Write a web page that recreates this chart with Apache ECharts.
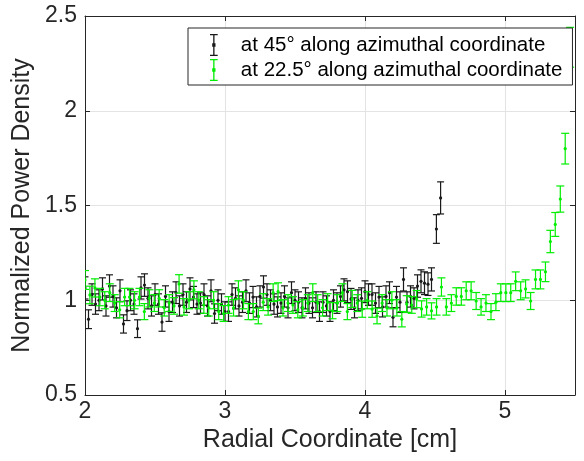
<!DOCTYPE html>
<html>
<head>
<meta charset="utf-8">
<script src="https://cdn.jsdelivr.net/npm/echarts@6/dist/echarts.min.js"></script>
<style>
    html, body { margin: 0; padding: 0; background: #fff; }
    #chart { width: 584px; height: 461px; }
</style>
</head>
<body>
<div id="chart"></div>
<script>
    'use strict';

    // radial positions [cm] and normalized power density, 45 deg cut
    var r45 = [
        2.000, 2.025, 2.050, 2.075, 2.100, 2.125, 2.150, 2.175, 2.200, 2.225,
        2.250, 2.275, 2.300, 2.325, 2.350, 2.375, 2.400, 2.425, 2.450, 2.475,
        2.500, 2.525, 2.550, 2.575, 2.600, 2.625, 2.650, 2.675, 2.700, 2.725,
        2.750, 2.775, 2.800, 2.825, 2.850, 2.875, 2.900, 2.925, 2.950, 2.975,
        3.000, 3.025, 3.050, 3.075, 3.100, 3.125, 3.150, 3.175, 3.200, 3.225,
        3.250, 3.275, 3.300, 3.325, 3.350, 3.375, 3.400, 3.425, 3.450, 3.475,
        3.500, 3.525, 3.550, 3.575, 3.600, 3.625, 3.650, 3.675, 3.700, 3.725,
        3.750, 3.775, 3.800, 3.825, 3.850, 3.875, 3.900, 3.925, 3.950, 3.975,
        4.000, 4.025, 4.050, 4.075, 4.100, 4.125, 4.150, 4.175, 4.200, 4.225,
        4.250, 4.275, 4.300, 4.325, 4.350, 4.375, 4.400, 4.425, 4.450, 4.475,
        4.510, 4.540
    ];
    var p45 = [
        1.065, 0.90, 1.03, 0.98, 1.00, 1.06, 0.97, 1.075, 1.02, 0.96,
        1.05, 0.875, 0.945, 1.00, 0.98, 0.85, 1.065, 1.08, 1.01, 0.97,
        1.03, 0.98, 0.885, 1.02, 0.94, 0.99, 1.04, 0.97, 1.03, 0.99,
        1.06, 1.017, 0.98, 0.985, 1.03, 0.97, 1.05, 0.93, 1.00, 0.98,
        0.94, 0.94, 1.03, 1.01, 0.97, 0.99, 1.05, 0.985, 1.017, 0.965,
        1.02, 1.07, 1.03, 1.00, 0.98, 0.965, 0.985, 1.02, 0.96, 1.04,
        1.00, 0.99, 0.96, 1.01, 0.985, 0.96, 0.99, 0.94, 0.99, 0.97,
        0.94, 1.00, 0.985, 1.02, 1.055, 1.045, 1.007, 0.96, 1.00, 1.01,
        1.045, 1.03, 1.03, 0.985, 1.017, 0.965, 1.02, 1.04, 0.91, 1.017,
        0.99, 1.11, 0.99, 1.02, 1.01, 1.075, 1.10, 1.09, 1.085, 1.11,
        1.376, 1.54
    ];

    // 22.5 deg cut
    var r225 = [
        2.000, 2.035, 2.071, 2.106, 2.141, 2.177, 2.212, 2.248, 2.283, 2.318,
        2.354, 2.389, 2.424, 2.460, 2.495, 2.530, 2.566, 2.601, 2.636, 2.672,
        2.707, 2.743, 2.778, 2.813, 2.849, 2.884, 2.919, 2.955, 2.990, 3.025,
        3.061, 3.096, 3.132, 3.167, 3.202, 3.238, 3.273, 3.308, 3.344, 3.379,
        3.414, 3.450, 3.485, 3.520, 3.556, 3.591, 3.627, 3.662, 3.697, 3.733,
        3.768, 3.803, 3.839, 3.874, 3.909, 3.945, 3.980, 4.016, 4.051, 4.086,
        4.122, 4.157, 4.192, 4.228, 4.263, 4.298, 4.334, 4.369, 4.404, 4.440,
        4.475, 4.511, 4.546, 4.581, 4.617, 4.652, 4.688, 4.723, 4.758, 4.794,
        4.829, 4.864, 4.900, 4.935, 4.970, 5.006, 5.041, 5.076, 5.112, 5.147,
        5.183, 5.218, 5.253, 5.289, 5.324, 5.359, 5.395, 5.430, 5.465
    ];
    var p225 = [
        1.107, 1.028, 1.065, 1.017, 1.00, 1.04, 0.985, 0.95, 1.017, 1.017,
        1.00, 1.017, 0.94, 1.01, 0.985, 1.01, 0.96, 0.985, 0.97, 1.086,
        0.965, 1.00, 1.055, 1.00, 0.975, 0.96, 1.00, 0.94, 0.93, 0.975,
        0.96, 1.055, 1.00, 0.94, 0.94, 0.917, 0.99, 0.965, 1.04, 1.045,
        0.96, 0.985, 0.975, 0.95, 0.96, 0.985, 1.04, 0.985, 0.96, 0.99,
        0.945, 0.985, 1.04, 0.94, 1.007, 0.985, 0.953, 1.00, 0.953, 0.917,
        0.985, 0.96, 1.00, 0.96, 0.90, 0.98, 0.975, 1.006, 0.954, 0.965,
        0.944, 0.965, 1.07, 0.965, 0.985, 1.02, 1.02, 1.05, 1.05, 0.996,
        0.965, 0.985, 0.94, 0.99, 1.04, 1.04, 1.04, 1.10, 1.05, 1.06,
        0.996, 1.11, 1.11, 1.15, 1.31, 1.40, 1.534, 1.80, 2.335
    ];

    // relative uncertainty
    var relErr45 = 0.055;
    var relErr225 = 0.045;

    var seriesNames = ['at 45° along azimuthal coordinate', 'at 22.5° along azimuthal coordinate'];
    var xTicks = [2, 3, 4, 5];
    var yTicks = [0.5, 1, 1.5, 2, 2.5];

    var FONT = '"Liberation Sans", Arial, Helvetica, sans-serif';

    function toRows(rs, ps, rel) {
        var out = [];
        for (var i = 0; i < rs.length; i++) {
            out.push([rs[i], ps[i], ps[i] * rel]);
        }
        return out;
    }

    function errorBar(capHalf, dotR) {
        return function (params, api) {
            var x = api.value(0), y = api.value(1), e = api.value(2);
            var c = api.coord([x, y]);
            var hi = api.coord([x, y + e]);
            var lo = api.coord([x, y - e]);
            var color = api.visual('color');
            var st = { stroke: color, lineWidth: 1.2 };
            return {
                type: 'group',
                children: [
                    { type: 'line', shape: { x1: c[0], y1: hi[1], x2: c[0], y2: lo[1] }, style: st },
                    { type: 'line', shape: { x1: c[0] - capHalf, y1: hi[1], x2: c[0] + capHalf, y2: hi[1] }, style: st },
                    { type: 'line', shape: { x1: c[0] - capHalf, y1: lo[1], x2: c[0] + capHalf, y2: lo[1] }, style: st },
                    { type: 'circle', shape: { cx: c[0], cy: c[1], r: dotR }, style: { fill: color } }
                ]
            };
        };
    }

    // I-beam with a dot, for the legend
    var errIcon = 'path://M0,0h7v1.2h-2.9v7.3h0.9v3h-0.9v7.3h2.9v1.2h-7v-1.2h2.9v-7.3h-0.9v-3h0.9v-7.3h-2.9z';

    var axisLine = { show: true, lineStyle: { color: '#262626', width: 1 } };
    var gridLine = { show: true, lineStyle: { color: '#e3e3e3', width: 1 } };
    var tick = { show: true, inside: true, length: 5, lineStyle: { color: '#262626' } };

    var option = {
        animation: false,
        backgroundColor: '#fff',
        grid: { left: 85, right: 9, top: 16, bottom: 66 },
        legend: {
            orient: 'vertical',
            left: 188,
            top: 28,
            padding: [6, 10, 4, 22],
            itemGap: 3,
            itemWidth: 30,
            itemHeight: 22,
            borderColor: '#262626',
            borderWidth: 1,
            backgroundColor: '#fff',
            textStyle: { fontFamily: FONT, fontSize: 20.5, lineHeight: 22, color: '#000', padding: [0, 0, 0, 7] },
            data: [
                { name: seriesNames[0], icon: errIcon, itemStyle: { color: '#1a1a1a' } },
                { name: seriesNames[1], icon: errIcon, itemStyle: { color: '#00ee00' } }
            ]
        },
        xAxis: [{
            type: 'value', min: 2, max: 5.5, interval: 1,
            name: 'Radial Coordinate [cm]', nameLocation: 'middle', nameGap: 32,
            nameTextStyle: { fontFamily: FONT, fontSize: 25, color: '#262626' },
            axisLine: axisLine,
            axisTick: tick,
            axisLabel: {
                fontFamily: FONT, fontSize: 23, color: '#262626', margin: 5,
                formatter: function (v) { return xTicks.indexOf(v) >= 0 ? String(v) : ''; }
            },
            splitLine: gridLine
        }, {
            type: 'value', position: 'top', min: 2, max: 5.5, interval: 1,
            axisLine: axisLine,
            axisTick: tick,
            axisLabel: { show: false }, splitLine: { show: false }
        }],
        yAxis: [{
            type: 'value', min: 0.5, max: 2.5, interval: 0.5,
            name: 'Normalized Power Density', nameLocation: 'middle', nameGap: 45,
            nameTextStyle: { fontFamily: FONT, fontSize: 25, color: '#262626' },
            axisLine: axisLine,
            axisTick: tick,
            axisLabel: {
                fontFamily: FONT, fontSize: 23, color: '#262626', margin: 8,
                formatter: function (v) { return yTicks.indexOf(v) >= 0 ? String(v) : ''; }
            },
            splitLine: gridLine
        }, {
            type: 'value', position: 'right', min: 0.5, max: 2.5, interval: 0.5,
            axisLine: axisLine,
            axisTick: tick,
            axisLabel: { show: false }, splitLine: { show: false }
        }],
        series: [{
            name: seriesNames[0],
            type: 'custom',
            clip: true,
            xAxisIndex: 0, yAxisIndex: 0,
            itemStyle: { color: '#1a1a1a' },
            renderItem: errorBar(3.5, 1.6),
            encode: { x: 0, y: 1 },
            data: toRows(r45, p45, relErr45)
        }, {
            name: seriesNames[1],
            type: 'custom',
            clip: true,
            xAxisIndex: 0, yAxisIndex: 0,
            itemStyle: { color: '#00ee00' },
            renderItem: errorBar(4, 1.6),
            encode: { x: 0, y: 1 },
            data: toRows(r225, p225, relErr225)
        }]
    };

    var chart = echarts.init(document.getElementById('chart'));
    chart.setOption(option);
</script>
</body>
</html>
